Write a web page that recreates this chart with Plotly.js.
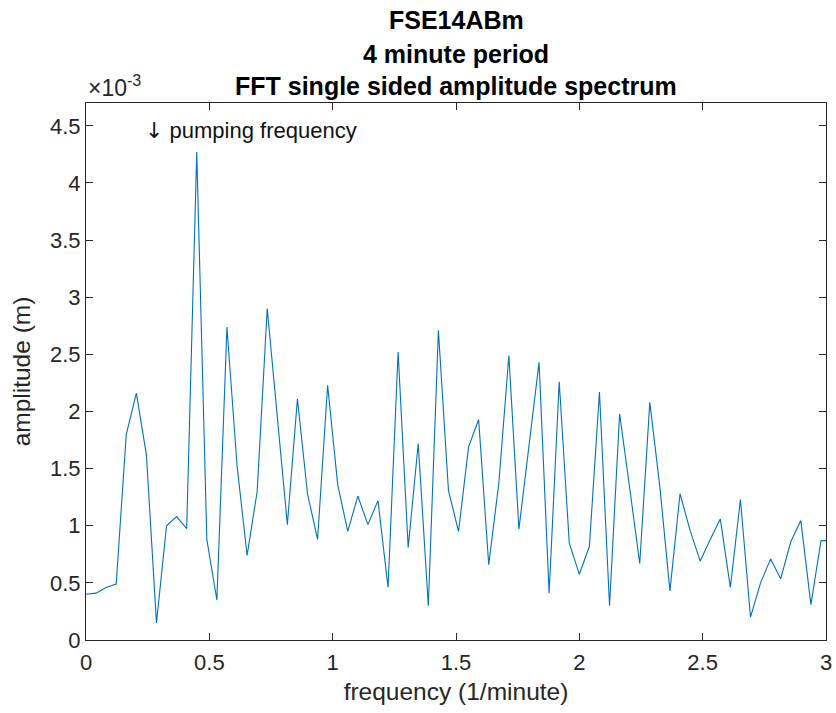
<!DOCTYPE html>
<html>
<head>
<meta charset="utf-8">
<script src="https://cdn.plot.ly/plotly-3.0.1.min.js"></script>
<style>html,body{margin:0;padding:0;background:#fff;}#chart{width:836px;height:713px;}</style>
</head>
<body>
<div id="chart"></div>
<script>
// frequency bins (1/minute)
var frequency = [0, 0.0408, 0.0816, 0.1224, 0.1633, 0.2041, 0.2449, 0.2857, 0.3265, 0.3673,
  0.4082, 0.4490, 0.4898, 0.5306, 0.5714, 0.6122, 0.6531, 0.6939, 0.7347, 0.7755,
  0.8163, 0.8571, 0.8980, 0.9388, 0.9796, 1.0204, 1.0612, 1.1020, 1.1429, 1.1837,
  1.2245, 1.2653, 1.3061, 1.3469, 1.3878, 1.4286, 1.4694, 1.5102, 1.5510, 1.5918,
  1.6327, 1.6735, 1.7143, 1.7551, 1.7959, 1.8367, 1.8776, 1.9184, 1.9592, 2.0000,
  2.0408, 2.0816, 2.1224, 2.1633, 2.2041, 2.2449, 2.2857, 2.3265, 2.3673, 2.4082,
  2.4490, 2.4898, 2.5306, 2.5714, 2.6122, 2.6531, 2.6939, 2.7347, 2.7755, 2.8163,
  2.8571, 2.8980, 2.9388, 2.9796, 3.0204];
// amplitude in units of 1e-3 m
var amplitude = [0.40, 0.41, 0.46, 0.49, 1.80, 2.16, 1.62, 0.15, 1.00, 1.08,
  0.975, 4.27, 0.88, 0.35, 2.74, 1.53, 0.74, 1.30, 2.90, 1.96,
  1.01, 2.11, 1.28, 0.88, 2.23, 1.36, 0.95, 1.26, 1.01, 1.22,
  0.46, 2.52, 0.81, 1.72, 0.30, 2.71, 1.31, 0.95, 1.69, 1.93,
  0.66, 1.37, 2.49, 0.97, 1.70, 2.43, 0.41, 2.26, 0.85, 0.575,
  0.82, 2.17, 0.30, 1.98, 1.33, 0.67, 2.08, 1.34, 0.43, 1.28,
  0.96, 0.69, 0.88, 1.06, 0.46, 1.23, 0.20, 0.50, 0.71, 0.535,
  0.86, 1.045, 0.31, 0.87, 0.87];
var titleLines = ["FSE14ABm", "4 minute period", "FFT single sided amplitude spectrum"];
var xLabel = "frequency (1/minute)";
var yLabel = "amplitude (m)";
var noteArrow = "\u2193";
var noteText = " pumping frequency";
var noteX = 0.232, noteY = 4.46;

var axCol = "#262626";
var fontFam = "Liberation Sans, Arial, Helvetica, sans-serif";

var trace = {
  x: frequency, y: amplitude, type: "scatter", mode: "lines",
  line: {color: "#0072BD", width: 1.1}, hoverinfo: "x+y"
};

var axisCommon = {
  showgrid: false, zeroline: false, showline: true, linecolor: axCol, linewidth: 1,
  mirror: "allticks", ticks: "inside", ticklen: 7, tickwidth: 1, tickcolor: axCol,
  tickfont: {family: fontFam, size: 22, color: axCol}
};

// title line centres in pixels from top, converted to paper coords
var plotTop = 103, plotH = 713 - 103 - 73;
var titleCentres = [20, 54, 86];
var annotations = titleLines.map(function (t, i) {
  return {xref: "paper", yref: "paper", x: 0.5, y: 1 + (plotTop - titleCentres[i]) / plotH,
    xanchor: "center", yanchor: "middle", showarrow: false, text: "<b>" + t + "</b>",
    font: {family: fontFam, size: 25, color: "#000"}};
});
annotations.push(
  {xref: "x", yref: "y", x: noteX, y: noteY, xanchor: "left", yanchor: "middle",
   text: "<span style=\"font-family:'DejaVu Sans'\">" + noteArrow + "</span>" + noteText,
   showarrow: false, font: {family: fontFam, size: 22, color: "#111"}},
  {xref: "paper", yref: "paper", x: 0, y: 1, xanchor: "left", yanchor: "bottom",
   text: "\u00d710<sup>-3</sup>", showarrow: false,
   font: {family: fontFam, size: 23, color: axCol}}
);

var layout = {
  width: 836, height: 713,
  margin: {l: 86, r: 10, t: 103, b: 73, pad: 0},
  paper_bgcolor: "#fff", plot_bgcolor: "#fff",
  showlegend: false,
  xaxis: Object.assign({}, axisCommon, {
    range: [0, 3], dtick: 0.5, tick0: 0, ticklabelstandoff: 3,
    title: {text: xLabel, font: {family: fontFam, size: 24.5, color: axCol}, standoff: 8}
  }),
  yaxis: Object.assign({}, axisCommon, {
    range: [0, 4.7], dtick: 0.5, tick0: 0,
    title: {text: yLabel, font: {family: fontFam, size: 24.5, color: axCol}, standoff: 12}
  }),
  annotations: annotations
};

Plotly.newPlot("chart", [trace], layout, {displayModeBar: false, staticPlot: true});
</script>
</body>
</html>
